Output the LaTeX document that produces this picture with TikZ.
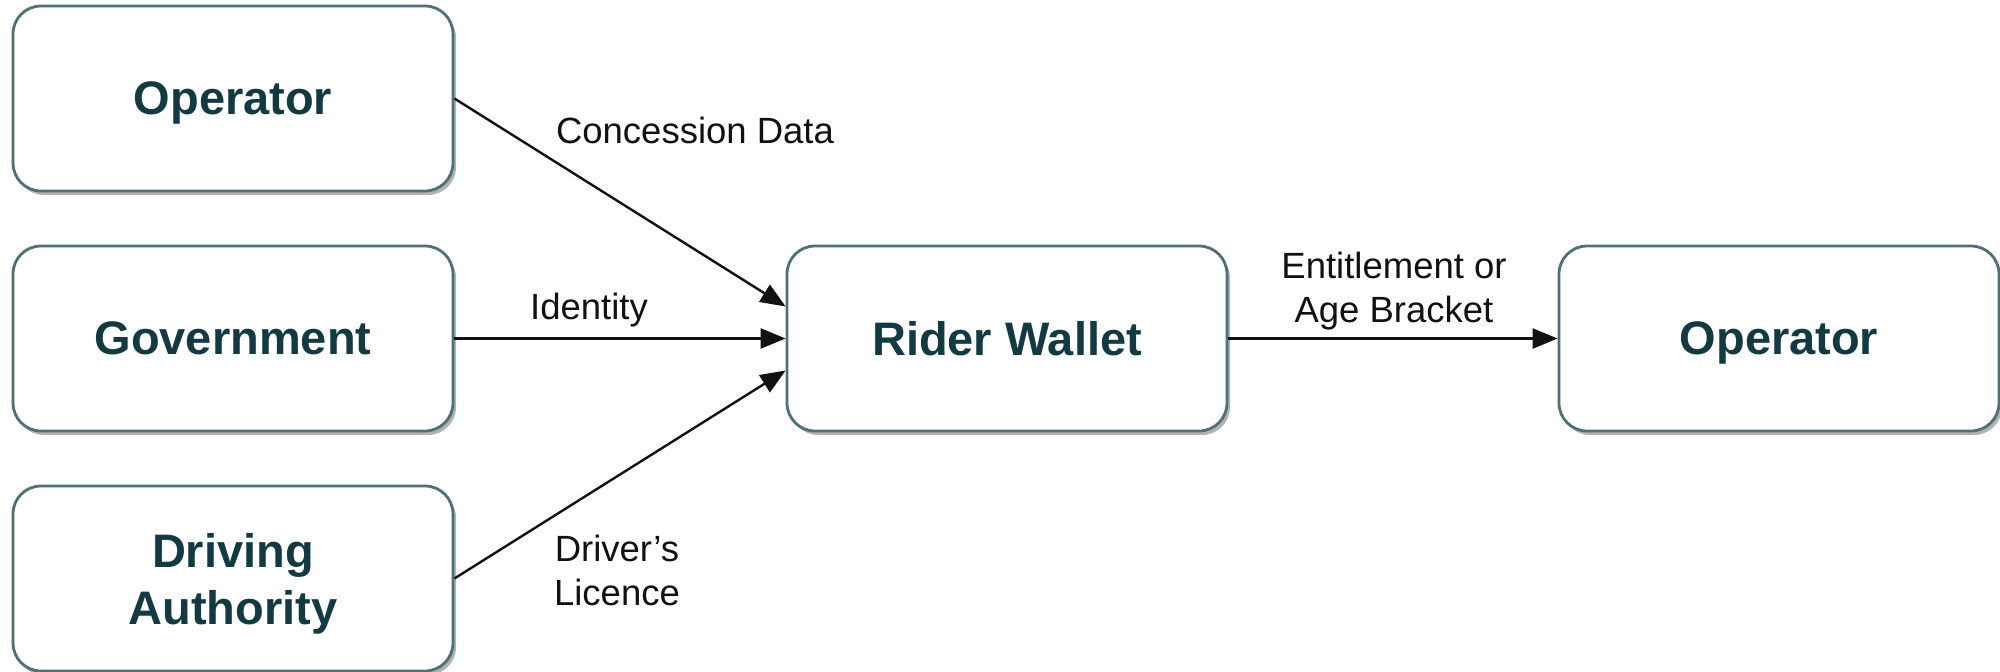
\documentclass[tikz,border=0pt]{standalone}
\usepackage{fontspec}
\setmainfont{Liberation Sans}
\usetikzlibrary{arrows.meta,shadows}
\definecolor{boxtext}{HTML}{133A42}
\definecolor{boxline}{HTML}{4F7076}
\definecolor{inkline}{HTML}{111111}
\begin{document}
\begin{tikzpicture}[x=1pt,y=-1pt,
  entity/.style={draw=boxline, line width=2.8pt, rounded corners=28pt, fill=white,
    minimum width=440pt, minimum height=185pt, inner sep=0pt, align=center,
    text=boxtext, font=\fontsize{47}{57}\selectfont\bfseries, text depth=0pt,
    drop shadow={shadow xshift=3pt, shadow yshift=-4pt, opacity=0.3, fill=black}},
  flow/.style={draw=inkline, line width=2.4pt, -{Triangle[length=25pt,width=20pt]}},
  lbl/.style={font=\fontsize{36.5}{44}\selectfont, align=center, text=inkline}]
\useasboundingbox (0,0) rectangle (2000,672);
\node[entity] (op1) at (233,98.5) {Operator};
\node[entity] (gov) at (233,338.5) {Government};
\node[entity] (da) at (233,578.5) {Driving\\Authority};
\node[entity] (rw) at (1007,338.5) {Rider Wallet};
\node[entity] (op2) at (1779,338.5) {Operator};
\draw[flow] (op1.east) -- ([yshift=32pt]rw.west);
\draw[flow] (gov.east) -- (rw.west);
\draw[flow] (da.east) -- ([yshift=-32pt]rw.west);
\draw[flow] (rw.east) -- (op2.west);
\node[lbl] (lcd) at (695,130) {Concession Data};
\node[lbl] (lid) at (589,310) {Identity};
\node[lbl] (ldl) at (617,570) {Driver’s\\Licence};
\node[lbl] (lea) at (1394,291) {Entitlement or\\Age Bracket};
\end{tikzpicture}
\end{document}
